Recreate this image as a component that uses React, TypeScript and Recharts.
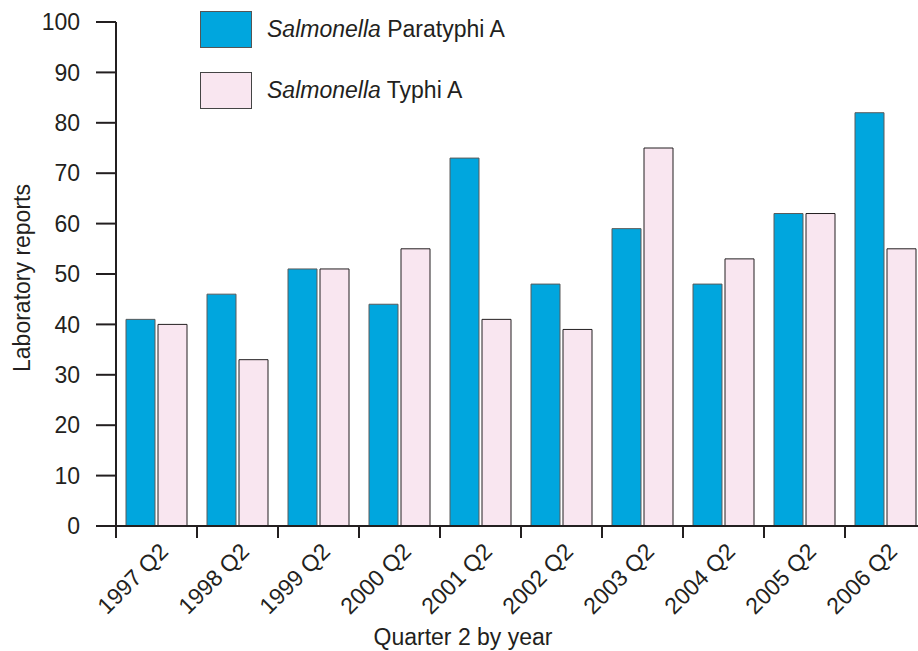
import React from 'react';
import { BarChart, Bar, XAxis, YAxis, Legend, Label } from 'recharts';

const categories = ['1997 Q2', '1998 Q2', '1999 Q2', '2000 Q2', '2001 Q2', '2002 Q2', '2003 Q2', '2004 Q2', '2005 Q2', '2006 Q2'];
const paratyphi = [41, 46, 51, 44, 73, 48, 59, 48, 62, 82];
const typhi = [40, 33, 51, 55, 41, 39, 75, 53, 62, 55];
const yTicks = [0, 10, 20, 30, 40, 50, 60, 70, 80, 90, 100];

const data = categories.map((c, i) => ({ name: c, paratyphi: paratyphi[i], typhi: typhi[i] }));

const FONT = '"Liberation Sans", Arial, sans-serif';
const FS = 23;
const INK = '#231f20';
const BLUE = '#00a6de';
const PINK = '#f9e6f0';

const CHART_W = 918;
const CHART_H = 643;
const Y_W = 108;
const BAND = (CHART_W - Y_W) / categories.length;

const XTick = (props: any) => {
  const { x, y, payload } = props;
  const lx = x - BAND / 2;
  const tx = x + 13;
  const ty = y + 27;
  return (
    <g>
      <line x1={lx} y1={y} x2={lx} y2={y + 12} stroke={INK} strokeWidth={2} />
      <text x={tx} y={ty} textAnchor="end" fontSize={FS} fontFamily={FONT} fill={INK} transform={`rotate(-45, ${tx}, ${ty})`}>
        {payload.value}
      </text>
    </g>
  );
};

const LegendContent = () => {
  const items = [
    { color: BLUE, stroke: '#555', name: 'Paratyphi A' },
    { color: PINK, stroke: '#444', name: 'Typhi A' },
  ];
  return (
    <div style={{ fontFamily: FONT, fontSize: FS, color: INK, lineHeight: 1 }}>
      {items.map((it, i) => (
        <div key={i} style={{ display: 'flex', alignItems: 'center', height: 37, marginBottom: i === 0 ? 24 : 0 }}>
          <div style={{ width: 50, height: 35, background: it.color, border: `1px solid ${it.stroke}`, flex: 'none' }} />
          <span style={{ marginLeft: 15, whiteSpace: 'nowrap' }}>
            <i>Salmonella</i> {it.name}
          </span>
        </div>
      ))}
    </div>
  );
};

export default function App() {
  return (
    <div style={{ position: 'absolute', left: 8, top: 8, width: 910, height: 643, overflow: 'hidden' }}>
      <BarChart
        width={CHART_W}
        height={CHART_H}
        data={data}
        margin={{ top: 14, right: 0, left: 0, bottom: 0 }}
        barGap={3}
        barSize={29}
      >
        <XAxis
          dataKey="name"
          height={125}
          tickSize={0}
          tickMargin={0}
          tickLine={false}
          tick={<XTick />}
          interval={0}
          axisLine={{ stroke: INK, strokeWidth: 2 }}
        >
          <Label
            content={() => (
              <text x={455} y={637} textAnchor="middle" fontSize={FS} fontFamily={FONT} fill={INK}>
                Quarter 2 by year
              </text>
            )}
          />
        </XAxis>
        <YAxis
          width={Y_W}
          domain={[0, 100]}
          ticks={yTicks}
          interval={0}
          tickSize={20}
          tickMargin={16}
          tick={{ fontSize: FS, fontFamily: FONT, fill: INK }}
          tickLine={{ stroke: INK, strokeWidth: 2 }}
          axisLine={{ stroke: INK, strokeWidth: 2 }}
        >
          <Label
            content={(p: any) => {
              const cy = p.viewBox ? p.viewBox.y + p.viewBox.height / 2 + 4 : 270;
              return (
                <text x={14} y={cy} textAnchor="middle" dominantBaseline="central" fontSize={FS} fontFamily={FONT} fill={INK} transform={`rotate(-90, 14, ${cy})`}>
                  Laboratory reports
                </text>
              );
            }}
          />
        </YAxis>
        <Legend
          layout="vertical"
          align="center"
          verticalAlign="middle"
          content={<LegendContent />}
          wrapperStyle={{ position: 'absolute', top: 3, left: 192, width: 400 }}
        />
        <Bar dataKey="paratyphi" fill={BLUE} stroke="#5a5a5a" strokeWidth={1} isAnimationActive={false} />
        <Bar dataKey="typhi" fill={PINK} stroke={INK} strokeWidth={1} isAnimationActive={false} />
      </BarChart>
    </div>
  );
}
